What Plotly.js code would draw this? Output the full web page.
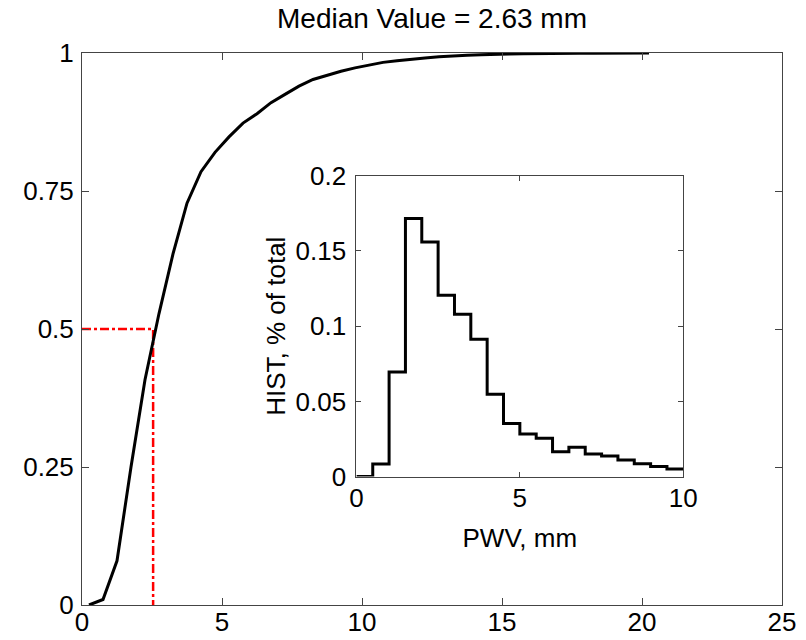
<!DOCTYPE html>
<html>
<head>
<meta charset="utf-8">
<script src="https://cdn.plot.ly/plotly-3.0.1.min.js"></script>
<style>html,body{margin:0;padding:0;background:#fff;}</style>
</head>
<body>
<div id="chart" style="width:806px;height:640px;"></div>
<script>
// CDF of PWV (main axes)
const cdfX = [0.25,0.75,1.25,1.75,2.25,2.75,3.25,3.75,4.25,4.75,5.25,5.75,6.25,6.75,7.25,7.75,8.25,8.75,9.25,9.75,10.25,10.75,11.25,11.75,12.25,12.75,13.25,13.75,14.25,14.75,15.25,15.75,16.25,16.75,17.25,17.75,18.25,18.75,19.25,19.75,20.25];
const cdfY = [0,0.010,0.080,0.250,0.408,0.528,0.636,0.728,0.785,0.820,0.848,0.873,0.890,0.910,0.925,0.940,0.952,0.960,0.967,0.973,0.978,0.983,0.986,0.989,0.991,0.993,0.995,0.996,0.997,0.998,0.998,0.9985,0.999,0.999,0.9993,0.9995,0.9996,0.9997,0.9998,0.9999,1];
// Median marker
const medianX = 2.54;
const medianY = 0.5;
// Histogram (inset), 0.5 mm bins
const histEdges = [0,0.5,1,1.5,2,2.5,3,3.5,4,4.5,5,5.5,6,6.5,7,7.5,8,8.5,9,9.5,10];
const histVals = [0,0.0084,0.0696,0.1716,0.156,0.1206,0.108,0.0913,0.0548,0.0353,0.0284,0.0255,0.0166,0.0195,0.0151,0.0137,0.011,0.0086,0.0067,0.0051];
const titleText = 'Median Value = 2.63 mm';
const mainXTicks = [0,5,10,15,20,25];
const mainYTicks = [0,0.25,0.5,0.75,1];
const mainYLabels = ['0','0.25','0.5','0.75','1'];
const insetXTicks = [0,5,10];
const insetYTicks = [0,0.05,0.1,0.15,0.2];
const insetYLabels = ['0','0.05','0.1','0.15','0.2'];
const insetXTitle = 'PWV, mm';
const insetYTitle = 'HIST, % of total';

const stepY = histVals.concat([histVals[histVals.length-1]]);

const font = {family:'Liberation Sans, Arial, sans-serif', size:26, color:'#000'};
const titleFont = {family:'Liberation Sans, Arial, sans-serif', size:28, color:'#000'};

const traces = [
  {x:[0, medianX, medianX], y:[medianY, medianY, 0], mode:'lines', line:{color:'#ff0000', width:2.5, dash:'dashdot'}, xaxis:'x', yaxis:'y', hoverinfo:'skip'},
  {x:cdfX, y:cdfY, mode:'lines', line:{color:'#000', width:3}, xaxis:'x', yaxis:'y'},
  {x:histEdges, y:stepY, mode:'lines', line:{color:'#000', width:3, shape:'hv'}, xaxis:'x2', yaxis:'y2'}
];

const axBase = {showgrid:false, zeroline:false, showline:true, linecolor:'#444', linewidth:1, mirror:'ticks', ticks:'inside', tickcolor:'#444', tickwidth:1, tickfont:font};

const layout = {
  width:806, height:640,
  margin:{l:82, r:24, t:53, b:35, pad:0},
  paper_bgcolor:'#fff', plot_bgcolor:'#fff',
  showlegend:false,
  font:font,
  title:{text:titleText, font:titleFont, x:0.5, xanchor:'center', xref:'paper', y:0.972, yanchor:'middle', yref:'container'},
  xaxis:Object.assign({}, axBase, {range:[0,25], tickvals:mainXTicks, ticklen:7, ticklabelstandoff:-6}),
  yaxis:Object.assign({}, axBase, {range:[0,1], tickvals:mainYTicks, ticktext:mainYLabels, ticklen:7, ticklabelstandoff:2}),
  xaxis2:Object.assign({}, axBase, {domain:[0.392,0.859], anchor:'y2', range:[0,10], tickvals:insetXTicks, ticklen:5, ticklabelstandoff:-2,
    title:{text:insetXTitle, font:font, standoff:16}}),
  yaxis2:Object.assign({}, axBase, {domain:[0.2326,0.7776], anchor:'x2', range:[0,0.2], tickvals:insetYTicks, ticktext:insetYLabels, ticklen:5, ticklabelstandoff:4,
    title:{text:insetYTitle, font:font, standoff:2}})
};

Plotly.newPlot('chart', traces, layout, {displayModeBar:false, staticPlot:true});
</script>
</body>
</html>
